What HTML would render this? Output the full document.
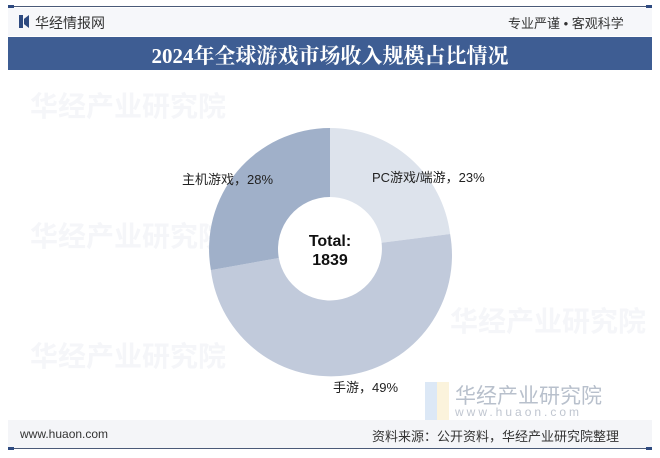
<!DOCTYPE html>
<html><head><meta charset="utf-8"><style>
body{margin:0;width:660px;height:458px;background:#fff;position:relative;overflow:hidden;font-family:"Liberation Sans","Noto Sans CJK SC",sans-serif}
.a{position:absolute}
</style></head><body>
<div class="a" style="left:8px;top:6px;width:644px;height:1px;background:#4a5a78"></div>
<div class="a" style="left:8px;top:5px;width:6px;height:3px;background:#2e4a80"></div>
<div class="a" style="left:646px;top:5px;width:6px;height:3px;background:#2e4a80"></div>
<div class="a" style="left:8px;top:8px;width:644px;height:28px;background:#f6f7fa"></div>
<div class="a" style="left:19px;top:15px;width:4px;height:13px;background:#2e4a80"></div>
<div class="a" style="left:24px;top:15px;width:5px;height:13px;background:#2e4a80;clip-path:polygon(0 30%,100% 0,100% 100%,0 70%)"></div>
<div class="a" style="left:35px;top:13px;font-size:14px;color:#333">华经情报网</div>
<div class="a" style="left:508px;top:13px;font-size:13px;color:#333">专业严谨 • 客观科学</div>
<div class="a" style="left:8px;top:37px;width:644px;height:33px;background:#3e5d93"></div>
<div class="a" style="left:8px;top:40px;width:644px;text-align:center;font-family:'Liberation Serif','Noto Serif CJK SC',serif;font-weight:bold;font-size:21px;color:#fff">2024年全球游戏市场收入规模占比情况</div>
<div class="a" style="left:30px;top:85px;font-size:28px;color:#f5f6f9;font-weight:bold">华经产业研究院</div>
<div class="a" style="left:30px;top:215px;font-size:28px;color:#f5f6f9;font-weight:bold">华经产业研究院</div>
<div class="a" style="left:30px;top:335px;font-size:28px;color:#f5f6f9;font-weight:bold">华经产业研究院</div>
<div class="a" style="left:450px;top:300px;font-size:28px;color:#f5f6f9;font-weight:bold">华经产业研究院</div>
<svg class="a" style="left:0;top:0" width="660" height="458">
<path d="M330,128 A121,121 0 0 1 450.1,234 L381.6,242.7 A52,52 0 0 0 330,197 Z" fill="#dde3ec"/>
<path d="M450.1,234 A121,121 0 1 1 210.9,270.1 L278.8,258 A52,52 0 0 0 381.6,242.7 Z" fill="#c1cadb"/>
<path d="M210.9,270.1 A121,121 0 0 1 330,128 L330,197 A52,52 0 0 0 278.8,258 Z" fill="#a0b0c9"/>
<rect x="425" y="382" width="12" height="40" fill="#dce8f6"/>
<rect x="437" y="382" width="12" height="40" fill="#fbf3dc"/>
</svg>
<div class="a" style="left:280px;top:232px;width:100px;text-align:center;font-weight:bold;font-size:16px;line-height:19px;color:#111">Total:<br>1839</div>
<div class="a" style="left:182px;top:169px;font-size:13px;color:#222">主机游戏，28%</div>
<div class="a" style="left:372px;top:167px;font-size:13px;color:#222">PC游戏/端游，23%</div>
<div class="a" style="left:333px;top:377px;font-size:13px;color:#222">手游，49%</div>
<div class="a" style="left:455px;top:380px;font-size:21px;color:#b8c0cc">华经产业研究院</div>
<div class="a" style="left:455px;top:405px;font-size:12px;letter-spacing:3px;color:#c0c6d0">www.huaon.com</div>
<div class="a" style="left:8px;top:420px;width:644px;height:28px;background:#f4f5f8"></div>
<div class="a" style="left:20px;top:427px;font-size:12px;color:#333">www.huaon.com</div>
<div class="a" style="left:372px;top:426px;font-size:13px;color:#333">资料来源：公开资料，华经产业研究院整理</div>
<div class="a" style="left:8px;top:448px;width:644px;height:1px;background:#4a5a78"></div>
<div class="a" style="left:8px;top:447px;width:6px;height:3px;background:#2e4a80"></div>
<div class="a" style="left:646px;top:447px;width:6px;height:3px;background:#2e4a80"></div>
</body></html>
